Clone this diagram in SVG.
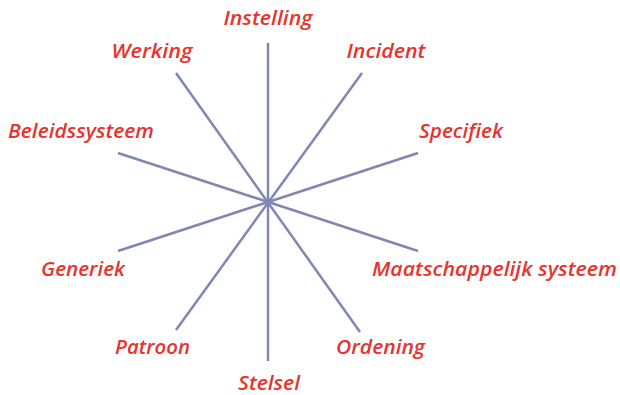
<svg xmlns="http://www.w3.org/2000/svg" width="620" height="395" viewBox="0 0 620 395">
<style>
.l{stroke:#7f87b2;stroke-width:2.5;fill:none;stroke-linecap:butt}
.t{font-family:"Open Sans","Noto Sans",sans-serif;font-style:italic;font-weight:600;font-size:19px;fill:#e8332e;text-anchor:middle}
</style>
<rect width="620" height="395" fill="#fff"/>
<g id="connectors">
<line class="l" x1="268" y1="43" x2="268" y2="361"/>
<line class="l" x1="176" y1="73" x2="360" y2="332"/>
<line class="l" x1="362" y1="73" x2="176" y2="330"/>
<line class="l" x1="118" y1="153" x2="418" y2="251"/>
<line class="l" x1="418" y1="153" x2="118" y2="251"/>
</g>
<g id="instelling"><text class="t" x="268" y="25" textLength="89" lengthAdjust="spacingAndGlyphs">Instelling</text></g>
<g id="werking"><text class="t" x="152" y="58" textLength="81" lengthAdjust="spacingAndGlyphs">Werking</text></g>
<g id="incident"><text class="t" x="386" y="58" textLength="79" lengthAdjust="spacingAndGlyphs">Incident</text></g>
<g id="beleidssysteem"><text class="t" x="81" y="138" textLength="146" lengthAdjust="spacingAndGlyphs">Beleidssysteem</text></g>
<g id="specifiek"><text class="t" x="461" y="138" textLength="84" lengthAdjust="spacingAndGlyphs">Specifiek</text></g>
<g id="generiek"><text class="t" x="83" y="276" textLength="84" lengthAdjust="spacingAndGlyphs">Generiek</text></g>
<g id="maatschappelijk"><text class="t" x="494.5" y="276" textLength="245" lengthAdjust="spacingAndGlyphs">Maatschappelijk systeem</text></g>
<g id="patroon"><text class="t" x="152.5" y="354" textLength="75" lengthAdjust="spacingAndGlyphs">Patroon</text></g>
<g id="ordening"><text class="t" x="380.5" y="354" textLength="89" lengthAdjust="spacingAndGlyphs">Ordening</text></g>
<g id="stelsel"><text class="t" x="269" y="390" textLength="62" lengthAdjust="spacingAndGlyphs">Stelsel</text></g>
</svg>
